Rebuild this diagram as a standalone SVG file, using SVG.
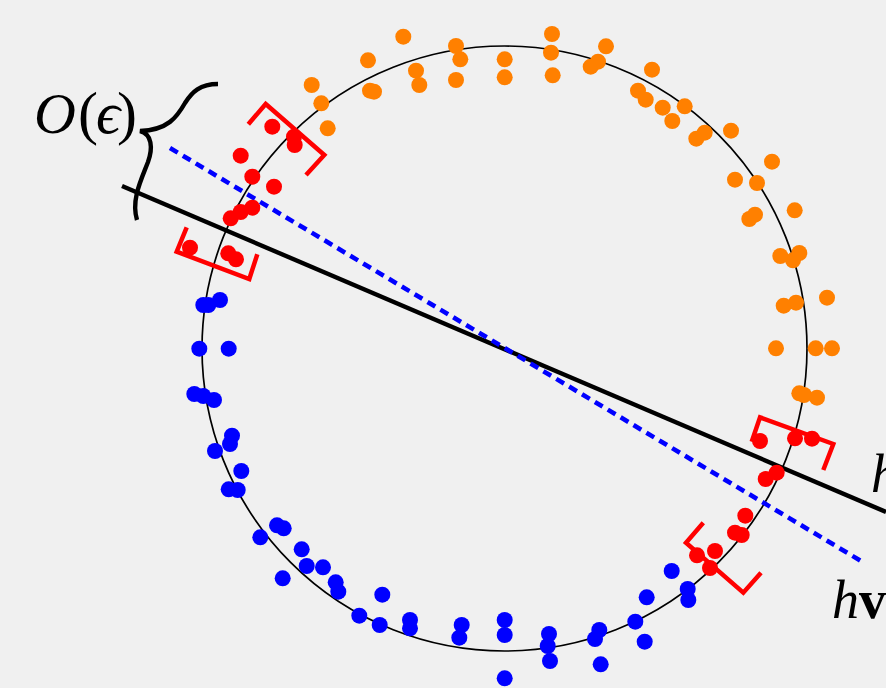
<svg xmlns="http://www.w3.org/2000/svg" width="886" height="688" viewBox="0 0 886 688">
  <style>
    .o { fill: #ff8000; }
    .r { fill: #ff0000; }
    .b { fill: #0000ff; }
    .bracket { fill: none; stroke: #ff0000; stroke-width: 4.5; stroke-linejoin: miter; }
    .tex { font-family: "Liberation Serif", "DejaVu Serif", serif; font-size: 54px; fill: #000; }
  </style>
  <rect width="886" height="688" fill="#f0f0f0"/>

  <!-- unit circle -->
  <circle id="circle" cx="504.5" cy="348.5" r="302.5" fill="none" stroke="#000" stroke-width="1.7"/>

  <!-- separating lines -->
  <g id="lines">
    <line x1="122" y1="186" x2="886" y2="512" stroke="#000" stroke-width="4.4"/>
    <line x1="170" y1="148" x2="861" y2="561" stroke="#0000ff" stroke-width="4.6" stroke-dasharray="9 6"/>
  </g>

  <!-- sample points -->
  <g id="orange-points" class="o">
    <circle cx="403.3" cy="36.7" r="8"/><circle cx="368" cy="60.3" r="8"/>
    <circle cx="416" cy="70.7" r="8"/><circle cx="419.3" cy="85" r="8"/>
    <circle cx="311.7" cy="85" r="8"/><circle cx="370" cy="90.7" r="8"/>
    <circle cx="374" cy="91.7" r="8"/><circle cx="321.3" cy="103.3" r="8"/>
    <circle cx="327.7" cy="128.3" r="8"/><circle cx="456" cy="46" r="8"/>
    <circle cx="460.3" cy="59.3" r="8"/><circle cx="456" cy="80" r="8"/>
    <circle cx="504.7" cy="59.3" r="8"/><circle cx="504.7" cy="77.3" r="8"/>
    <circle cx="552" cy="34" r="8"/><circle cx="551" cy="52.7" r="8"/>
    <circle cx="552.7" cy="75.3" r="8"/><circle cx="606" cy="46.3" r="8"/>
    <circle cx="598" cy="61.7" r="8"/><circle cx="590.7" cy="66.7" r="8"/>
    <circle cx="652" cy="69.7" r="8"/><circle cx="638" cy="90.7" r="8"/>
    <circle cx="645.7" cy="99.7" r="8"/><circle cx="662.7" cy="107.7" r="8"/>
    <circle cx="684.7" cy="106.3" r="8"/><circle cx="672.3" cy="121" r="8"/>
    <circle cx="704.7" cy="132.7" r="8"/><circle cx="696.3" cy="138.7" r="8"/>
    <circle cx="731" cy="130.7" r="8"/><circle cx="772" cy="161.7" r="8"/>
    <circle cx="735" cy="179.7" r="8"/><circle cx="757" cy="183" r="8"/>
    <circle cx="794.7" cy="210.3" r="8"/><circle cx="755" cy="214.7" r="8"/>
    <circle cx="749.3" cy="219" r="8"/><circle cx="780.3" cy="256" r="8"/>
    <circle cx="799.3" cy="253" r="8"/><circle cx="793" cy="260.3" r="8"/>
    <circle cx="827" cy="297.7" r="8"/><circle cx="796" cy="302.7" r="8"/>
    <circle cx="783.7" cy="305.7" r="8"/><circle cx="776" cy="348.3" r="8"/>
    <circle cx="815.7" cy="348.3" r="8"/><circle cx="832" cy="348.3" r="8"/>
    <circle cx="799.3" cy="393.3" r="8"/><circle cx="804" cy="395" r="8"/>
    <circle cx="817" cy="397.7" r="8"/>
  </g>

  <g id="red-points" class="r">
    <circle cx="272.3" cy="126.7" r="8"/><circle cx="294" cy="136.7" r="8"/>
    <circle cx="294.7" cy="145" r="8"/><circle cx="240.7" cy="155.7" r="8"/>
    <circle cx="252.3" cy="176.7" r="8"/><circle cx="274" cy="186.7" r="8"/>
    <circle cx="252.3" cy="207.7" r="8"/><circle cx="240.7" cy="212" r="8"/>
    <circle cx="230.7" cy="218.3" r="8"/><circle cx="190" cy="247.7" r="8"/>
    <circle cx="228.3" cy="253.3" r="8"/><circle cx="236" cy="259.3" r="8"/>
    <circle cx="760" cy="441" r="8"/><circle cx="795" cy="438.3" r="8"/>
    <circle cx="812" cy="438.7" r="8"/><circle cx="776.7" cy="472.7" r="8"/>
    <circle cx="765.7" cy="479" r="8"/><circle cx="745.3" cy="515.7" r="8"/>
    <circle cx="735" cy="532.7" r="8"/><circle cx="741.7" cy="535" r="8"/>
    <circle cx="715" cy="551" r="8"/><circle cx="697" cy="555.3" r="8"/>
    <circle cx="710" cy="568" r="8"/>
  </g>

  <g id="blue-points" class="b">
    <circle cx="203.3" cy="305" r="8"/><circle cx="208.3" cy="305" r="8"/>
    <circle cx="220" cy="300" r="8"/><circle cx="199.3" cy="348.7" r="8"/>
    <circle cx="228.7" cy="348.7" r="8"/><circle cx="194.3" cy="394" r="8"/>
    <circle cx="203.3" cy="396" r="8"/><circle cx="214" cy="400" r="8"/>
    <circle cx="232" cy="435.7" r="8"/><circle cx="230" cy="444" r="8"/>
    <circle cx="215" cy="451" r="8"/><circle cx="241.3" cy="471" r="8"/>
    <circle cx="228.7" cy="489.3" r="8"/><circle cx="237.7" cy="490" r="8"/>
    <circle cx="277" cy="525.3" r="8"/><circle cx="283.7" cy="528.3" r="8"/>
    <circle cx="260.3" cy="537.3" r="8"/><circle cx="301.7" cy="549.3" r="8"/>
    <circle cx="306.7" cy="566" r="8"/><circle cx="323" cy="567.3" r="8"/>
    <circle cx="282.7" cy="578.3" r="8"/><circle cx="335.7" cy="582.3" r="8"/>
    <circle cx="338.3" cy="591.7" r="8"/><circle cx="359.3" cy="615.7" r="8"/>
    <circle cx="382.3" cy="594.7" r="8"/><circle cx="379.7" cy="625" r="8"/>
    <circle cx="410" cy="620" r="8"/><circle cx="410" cy="628.3" r="8"/>
    <circle cx="461.7" cy="625" r="8"/><circle cx="459.3" cy="637.7" r="8"/>
    <circle cx="504.7" cy="620" r="8"/><circle cx="504.7" cy="635" r="8"/>
    <circle cx="504.7" cy="678.3" r="8"/><circle cx="549" cy="634" r="8"/>
    <circle cx="547.7" cy="646" r="8"/><circle cx="550" cy="661" r="8"/>
    <circle cx="599.3" cy="630" r="8"/><circle cx="595" cy="639" r="8"/>
    <circle cx="600.7" cy="664.3" r="8"/><circle cx="635.3" cy="621.7" r="8"/>
    <circle cx="646.7" cy="597.3" r="8"/><circle cx="644.7" cy="641.7" r="8"/>
    <circle cx="671.7" cy="571" r="8"/><circle cx="687.7" cy="589" r="8"/>
    <circle cx="688.3" cy="600" r="8"/>
  </g>

  <!-- margin brackets -->
  <g id="brackets" class="bracket">
    <polyline points="248.3,124.3 265.7,104 324.3,155 306,175"/>
    <polyline points="186.7,227.3 176.7,251.7 249.3,279 257.3,254.3"/>
    <polyline points="751.7,441.7 760,417.3 833.3,444 823.3,470"/>
    <polyline points="703.3,522.7 686,542.7 743.3,592.7 761,572.7"/>
  </g>

  <!-- brace marking the margin width -->
  <path id="brace" d="M218,84 C200,84 192,92 185,103 C177,117 168,130 140,131 C152,134 153,148 148,162 C141,180 131,200 137,220" fill="none" stroke="#000" stroke-width="4.4" stroke-linecap="butt"/>

  <g id="labels" class="tex">
    <text x="34" y="133"><tspan font-style="italic" font-size="58">O</tspan><tspan x="78" font-size="60">(</tspan><tspan x="96" font-style="italic" font-size="60">ϵ</tspan><tspan x="117" font-size="60">)</tspan></text>
    <text x="871" y="492" font-style="italic">h</text>
    <text x="832" y="618"><tspan font-style="italic">h</tspan><tspan font-weight="bold">v</tspan></text>
  </g>
</svg>
